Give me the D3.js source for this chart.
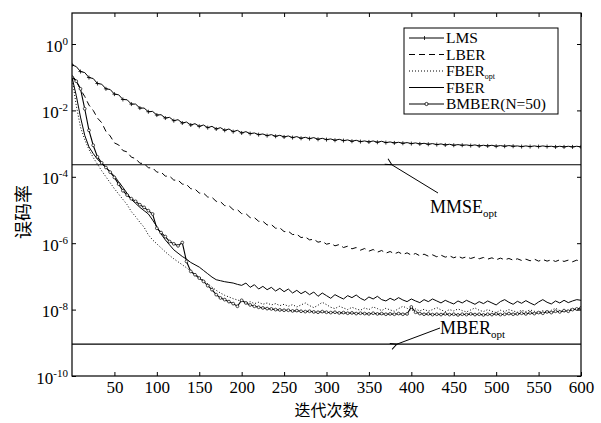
<!DOCTYPE html>
<html>
<head>
<meta charset="utf-8">
<script src="https://cdn.jsdelivr.net/npm/d3@7/dist/d3.min.js"></script>
<style>
  body { margin: 0; background: #fff; }
  svg { display: block; }
</style>
</head>
<body>
<div id="chart"></div>
<script>
// iteration grid shared by all curves (every 5 iterations)
const iters = d3.range(0, 601, 5);

// curves stored as log10(BER)
const lmsLog = [-0.63,-0.68,-0.83,-0.86,-1.01,-1.04,-1.19,-1.21,-1.35,-1.37,-1.51,-1.53,-1.67,-1.68,-1.81,-1.81,-1.93,-1.93,-2.04,-2.03,
  -2.14,-2.13,-2.23,-2.21,-2.31,-2.28,-2.38,-2.35,-2.44,-2.40,-2.48,-2.44,-2.52,-2.48,-2.56,-2.52,-2.60,-2.56,-2.64,-2.60,
  -2.68,-2.64,-2.70,-2.68,-2.73,-2.71,-2.76,-2.73,-2.78,-2.75,-2.80,-2.77,-2.82,-2.79,-2.84,-2.81,-2.85,-2.82,-2.87,-2.84,
  -2.88,-2.86,-2.90,-2.87,-2.91,-2.89,-2.93,-2.90,-2.94,-2.92,-2.95,-2.92,-2.96,-2.93,-2.97,-2.95,-2.98,-2.96,-2.99,-2.97,
  -3.00,-2.98,-3.01,-2.99,-3.02,-3.00,-3.03,-3.01,-3.04,-3.02,-3.05,-3.03,-3.05,-3.04,-3.06,-3.04,-3.07,-3.05,-3.07,-3.05,
  -3.08,-3.06,-3.08,-3.06,-3.08,-3.07,-3.09,-3.07,-3.09,-3.07,-3.09,-3.07,-3.09,-3.08,-3.10,-3.08,-3.10,-3.08,-3.10,-3.08,-3.10];

const lberLog = [-0.95,-1.10,-1.37,-1.58,-1.84,-2.00,-2.23,-2.37,-2.63,-2.77,-2.98,-3.04,-3.21,-3.25,-3.41,-3.45,-3.59,-3.60,-3.73,-3.73,
  -3.86,-3.86,-3.98,-3.98,-4.10,-4.10,-4.22,-4.23,-4.36,-4.37,-4.49,-4.49,-4.61,-4.62,-4.74,-4.75,-4.87,-4.87,-4.99,-4.99,
  -5.11,-5.11,-5.23,-5.23,-5.34,-5.34,-5.45,-5.44,-5.55,-5.54,-5.65,-5.64,-5.74,-5.73,-5.83,-5.81,-5.90,-5.88,-5.97,-5.94,
  -6.03,-6.00,-6.08,-6.04,-6.13,-6.09,-6.17,-6.13,-6.21,-6.16,-6.24,-6.19,-6.27,-6.22,-6.30,-6.25,-6.32,-6.27,-6.34,-6.29,
  -6.36,-6.31,-6.38,-6.33,-6.39,-6.35,-6.41,-6.36,-6.42,-6.38,-6.44,-6.39,-6.45,-6.41,-6.46,-6.42,-6.47,-6.43,-6.48,-6.44,
  -6.50,-6.45,-6.50,-6.46,-6.51,-6.47,-6.52,-6.48,-6.53,-6.48,-6.54,-6.49,-6.54,-6.50,-6.55,-6.50,-6.55,-6.51,-6.56,-6.51,-6.56];

const fberOptLog = [-1.00,-1.85,-2.50,-2.88,-3.18,-3.42,-3.62,-3.82,-4.00,-4.18,-4.36,-4.52,-4.68,-4.84,-5.05,-5.20,-5.37,-5.52,-5.75,-5.90,
  -6.02,-6.14,-6.26,-6.37,-6.47,-6.56,-6.65,-6.74,-6.84,-6.93,-7.02,-7.12,-7.22,-7.32,-7.42,-7.50,-7.57,-7.62,-7.67,-7.71,
  -7.75,-7.80,-7.76,-7.82,-7.78,-7.84,-7.80,-7.86,-7.82,-7.88,-7.84,-7.90,-7.85,-7.92,-7.86,-7.80,-7.88,-7.94,-7.87,-7.78,
  -7.85,-7.93,-7.97,-7.90,-7.95,-8.00,-7.93,-7.98,-8.02,-7.95,-8.00,-7.92,-7.97,-8.03,-7.96,-8.01,-8.05,-7.97,-7.90,-7.96,
  -8.03,-7.98,-8.04,-7.99,-8.05,-8.00,-7.94,-8.01,-8.06,-8.00,-8.04,-7.98,-8.03,-8.07,-8.01,-7.95,-8.02,-8.06,-8.00,-8.05,
  -8.09,-8.02,-8.06,-8.00,-8.04,-8.08,-8.02,-8.06,-8.01,-8.05,-8.09,-8.03,-8.07,-8.02,-7.96,-8.03,-8.07,-8.01,-7.97,-8.02,-7.98];

const fberLog = [-1.00,-1.55,-2.20,-2.75,-3.10,-3.30,-3.47,-3.60,-3.72,-3.85,-3.98,-4.15,-4.32,-4.50,-4.68,-4.80,-4.92,-5.02,-5.12,-5.30,
  -5.50,-5.72,-5.90,-6.05,-6.20,-6.30,-6.40,-6.48,-6.58,-6.65,-6.72,-6.82,-6.92,-7.02,-7.10,-7.13,-7.16,-7.18,-7.20,-7.24,
  -7.27,-7.20,-7.33,-7.25,-7.38,-7.30,-7.40,-7.33,-7.44,-7.36,-7.46,-7.38,-7.50,-7.42,-7.52,-7.45,-7.55,-7.47,-7.60,-7.50,
  -7.58,-7.66,-7.55,-7.62,-7.68,-7.58,-7.64,-7.56,-7.66,-7.72,-7.62,-7.68,-7.60,-7.70,-7.74,-7.66,-7.72,-7.64,-7.71,-7.76,
  -7.68,-7.74,-7.79,-7.70,-7.76,-7.68,-7.74,-7.80,-7.72,-7.78,-7.83,-7.74,-7.80,-7.72,-7.78,-7.84,-7.76,-7.82,-7.74,-7.80,
  -7.86,-7.76,-7.70,-7.78,-7.84,-7.75,-7.81,-7.73,-7.80,-7.86,-7.77,-7.70,-7.78,-7.83,-7.74,-7.80,-7.72,-7.79,-7.74,-7.70,-7.72];

const bmberLog = [-1.00,-1.12,-1.35,-1.95,-2.60,-3.05,-3.40,-3.58,-3.72,-3.86,-4.02,-4.22,-4.42,-4.55,-4.66,-4.74,-4.84,-4.92,-5.02,-5.12,
  -5.55,-5.68,-5.80,-5.95,-6.02,-6.08,-5.98,-6.55,-6.85,-6.95,-7.05,-7.15,-7.28,-7.40,-7.55,-7.65,-7.70,-7.76,-7.82,-7.90,
  -7.72,-7.80,-7.86,-7.90,-7.93,-7.95,-7.97,-7.98,-8.00,-8.01,-8.02,-8.02,-8.04,-8.03,-8.05,-8.06,-8.05,-8.07,-8.08,-8.06,
  -8.08,-8.09,-8.08,-8.10,-8.09,-8.11,-8.10,-8.12,-8.11,-8.12,-8.13,-8.11,-8.13,-8.12,-8.14,-8.13,-8.14,-8.12,-8.14,-8.13,
  -7.92,-8.08,-8.12,-8.14,-8.13,-8.15,-8.14,-8.15,-8.13,-8.15,-8.14,-8.16,-8.14,-8.15,-8.13,-8.15,-8.14,-8.16,-8.14,-8.15,
  -8.13,-8.15,-8.14,-8.12,-8.14,-8.13,-8.11,-8.13,-8.10,-8.12,-8.09,-8.11,-8.07,-8.09,-8.05,-8.07,-8.03,-8.05,-8.00,-7.98,-7.95];

// optimum reference levels (horizontal lines)
const mmseOpt = 2.3e-4;
const mberOpt = 9.1e-10;

const xTicks = [50, 100, 150, 200, 250, 300, 350, 400, 450, 500, 550, 600];
const yTickExps = [0, -2, -4, -6, -8, -10];

const legendNames = ["LMS", "LBER", "FBER", "FBER", "BMBER(N=50)"];
const legendSubs = ["", "", "opt", "", ""];

const width = 601;
const height = 423;
const plotTop = 13;
const serif = "'Liberation Serif', 'Times New Roman', serif";

const x = d3.scaleLinear().domain([0, 600]).range([72, 581]);
const y = d3.scaleLog().domain([1e-10, 1]).range([376, 44]);

const svg = d3.select("#chart").append("svg")
    .attr("width", width)
    .attr("height", height);

svg.append("defs").append("clipPath").attr("id", "plotclip")
  .append("rect")
    .attr("x", x(0)).attr("y", plotTop)
    .attr("width", x(600) - x(0)).attr("height", y(1e-10) - plotTop);

const series = [
  {name: "LMS", vals: lmsLog, dash: null, marker: "plus"},
  {name: "LBER", vals: lberLog, dash: "6,4", marker: null},
  {name: "FBERopt", vals: fberOptLog, dash: "1,2", marker: null},
  {name: "FBER", vals: fberLog, dash: null, marker: null},
  {name: "BMBER", vals: bmberLog, dash: null, marker: "circle"}
];

const line = d3.line()
    .x(d => x(d[0]))
    .y(d => y(Math.pow(10, d[1])));

const plot = svg.append("g").attr("clip-path", "url(#plotclip)");

// horizontal optimum lines
[mmseOpt, mberOpt].forEach(v => {
  plot.append("line")
      .attr("x1", x(0)).attr("x2", x(600))
      .attr("y1", y(v)).attr("y2", y(v))
      .attr("stroke", "#000").attr("stroke-width", 1.1);
});

series.forEach(s => {
  const pts = iters.map((it, i) => [it, s.vals[i]]);
  plot.append("path")
      .datum(pts)
      .attr("d", line)
      .attr("fill", "none")
      .attr("stroke", "#000")
      .attr("stroke-width", s.marker === "circle" ? 1.1 : 1)
      .attr("stroke-dasharray", s.dash);

  if (s.marker === "plus") {
    plot.selectAll(null)
      .data(pts.filter((d, i) => i % 2 === 0))
      .join("path")
        .attr("d", d => {
          const px = x(d[0]), py = y(Math.pow(10, d[1]));
          return `M${px - 2},${py}h4M${px},${py - 2}v4`;
        })
        .attr("stroke", "#000").attr("stroke-width", 0.8);
  }
  if (s.marker === "circle") {
    plot.selectAll(null)
      .data(pts)
      .join("circle")
        .attr("cx", d => x(d[0]))
        .attr("cy", d => y(Math.pow(10, d[1])))
        .attr("r", 1.4)
        .attr("fill", "#fff")
        .attr("stroke", "#000").attr("stroke-width", 0.7);
  }
});

// frame
svg.append("rect")
    .attr("x", x(0)).attr("y", plotTop)
    .attr("width", x(600) - x(0)).attr("height", y(1e-10) - plotTop)
    .attr("fill", "none").attr("stroke", "#000").attr("stroke-width", 1.2);

// axes, ticks pointing inward on all four sides
const yTicks = yTickExps.map(e => Math.pow(10, e));

const xAxis = svg.append("g")
    .attr("transform", `translate(0,${y(1e-10)})`)
    .call(d3.axisBottom(x).tickValues(xTicks).tickSize(-4).tickPadding(0));
xAxis.select(".domain").remove();
xAxis.selectAll("text")
    .attr("y", 17).attr("dy", 0)
    .attr("font-family", serif).attr("font-size", 17).attr("fill", "#000");

const xTop = svg.append("g")
    .attr("transform", `translate(0,${plotTop})`)
    .call(d3.axisTop(x).tickValues(xTicks).tickSize(-4).tickFormat(""));
xTop.select(".domain").remove();

const yRight = svg.append("g")
    .attr("transform", `translate(${x(600)},0)`)
    .call(d3.axisRight(y).tickValues(yTicks).tickSize(-4).tickFormat(""));
yRight.select(".domain").remove();

const yAxis = svg.append("g")
    .attr("transform", `translate(${x(0)},0)`)
    .call(d3.axisLeft(y).tickValues(yTicks).tickSize(-4).tickFormat(""));
yAxis.select(".domain").remove();
yAxis.selectAll(".tick").each(function(d, i) {
  const t = d3.select(this).append("text")
      .attr("x", -4).attr("y", 7)
      .attr("text-anchor", "end")
      .attr("fill", "#000")
      .attr("font-family", serif).attr("font-size", 17);
  t.append("tspan").text("10");
  t.append("tspan").attr("dy", -7).attr("font-size", 11).text(yTickExps[i]);
});

// axis titles
svg.append("text")
    .attr("x", (x(0) + x(600)) / 2).attr("y", 416)
    .attr("text-anchor", "middle")
    .attr("font-family", "'Noto Sans CJK SC', sans-serif")
    .attr("font-size", 16).attr("fill", "#000")
    .text("迭代次数");

svg.append("text")
    .attr("transform", "translate(30,212) rotate(-90)")
    .attr("text-anchor", "middle")
    .attr("font-family", "'Noto Sans CJK SC', sans-serif")
    .attr("font-size", 18).attr("fill", "#000")
    .text("误码率");

// legend
const legend = svg.append("g").attr("transform", "translate(404,28)");
legend.append("rect")
    .attr("width", 154).attr("height", 86)
    .attr("fill", "#fff").attr("stroke", "#000").attr("stroke-width", 1);

series.forEach((s, i) => {
  const ly = 10 + i * 16.5;
  legend.append("line")
      .attr("x1", 5).attr("x2", 40)
      .attr("y1", ly).attr("y2", ly)
      .attr("stroke", "#000").attr("stroke-width", 1)
      .attr("stroke-dasharray", s.dash);
  if (s.marker === "plus") {
    legend.append("path").attr("d", `M20.5,${ly - 2}v4`).attr("stroke", "#000").attr("stroke-width", 0.8);
  }
  if (s.marker === "circle") {
    legend.append("circle").attr("cx", 22.5).attr("cy", ly).attr("r", 1.6)
        .attr("fill", "#fff").attr("stroke", "#000").attr("stroke-width", 0.8);
  }
  const t = legend.append("text")
      .attr("x", 42).attr("y", ly + 5)
      .attr("font-family", serif).attr("font-size", 15.5).attr("fill", "#000");
  t.append("tspan").text(legendNames[i]);
  if (legendSubs[i]) {
    t.append("tspan").attr("dy", 3).attr("font-size", 8).text(legendSubs[i]);
  }
});

// annotations with arrows
svg.append("defs").append("marker")
    .attr("id", "arrow")
    .attr("viewBox", "0 0 10 10")
    .attr("refX", 1).attr("refY", 5)
    .attr("markerWidth", 8).attr("markerHeight", 8)
    .attr("orient", "auto-start-reverse")
  .append("path")
    .attr("d", "M9,1L1,5L9,9")
    .attr("fill", "none").attr("stroke", "#000").attr("stroke-width", 1.2);

const notes = [
  {label: "MMSE", iter: 377, value: mmseOpt, tail: [438, 193], text: [430, 213]},
  {label: "MBER", iter: 383, value: mberOpt, tail: [440, 328], text: [440, 334]}
];

notes.forEach(n => {
  svg.append("line")
      .attr("x1", n.tail[0]).attr("y1", n.tail[1])
      .attr("x2", x(n.iter)).attr("y2", y(n.value))
      .attr("stroke", "#000").attr("stroke-width", 1)
      .attr("marker-end", "url(#arrow)");
  const t = svg.append("text")
      .attr("x", n.text[0]).attr("y", n.text[1])
      .attr("font-family", serif).attr("font-size", 18).attr("fill", "#000");
  t.append("tspan").text(n.label);
  t.append("tspan").attr("dy", 4).attr("font-size", 11).text("opt");
});
</script>
</body>
</html>
